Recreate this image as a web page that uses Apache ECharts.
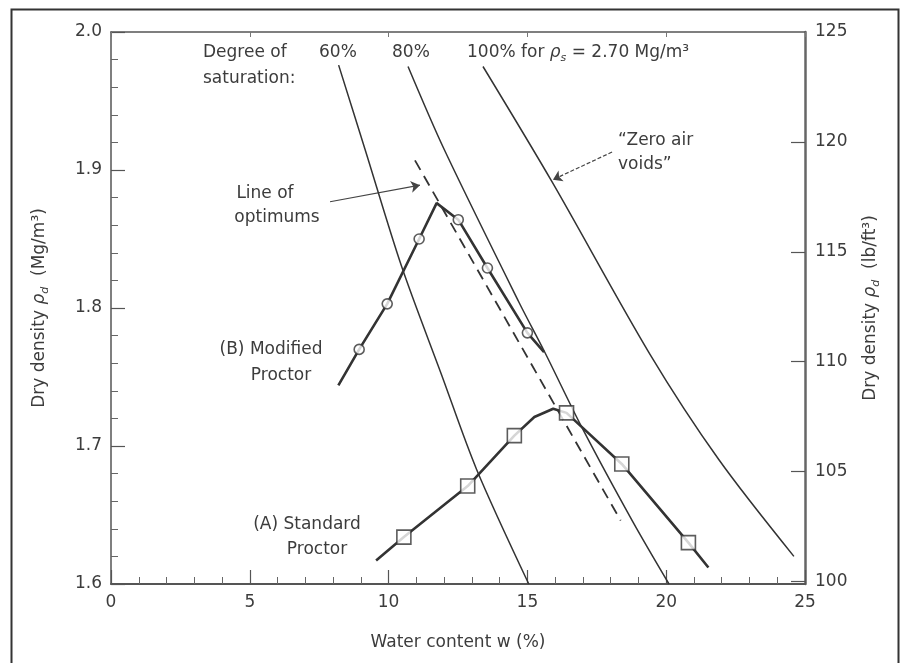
<!DOCTYPE html>
<html><head><meta charset="utf-8">
<script src="https://cdn.jsdelivr.net/npm/echarts@6/dist/echarts.min.js"></script>
<style>html,body{margin:0;padding:0;background:#fff}#c{width:904px;height:663px}</style>
</head><body><div id="c"></div>
<script>
// ---------- data ----------
const xTicks = [0, 5, 10, 15, 20, 25];
const yTicksLeft = [1.6, 1.7, 1.8, 1.9, 2.0];
const yTicksRight = [100, 105, 110, 115, 120, 125];
// degree of saturation curves [w %, rho_d Mg/m3]
const sat60 = [[8.2, 1.976], [9.15, 1.915], [10.47, 1.830], [11.9, 1.752], [13.17, 1.683], [15.05, 1.600]];
const sat80 = [[10.7, 1.975], [12.0, 1.915], [14.7, 1.804], [15.6, 1.769], [17.0, 1.712], [18.8, 1.645], [20.1, 1.600]];
const sat100 = [[13.4, 1.975], [15.9, 1.891], [19.4, 1.767], [21.9, 1.690], [24.6, 1.620]];
// line of optimums (dashed)
const optimumLine = [[10.95, 1.907], [18.36, 1.646]];
// (B) Modified Proctor
const modifiedCurve = [[8.19, 1.744], [8.94, 1.770], [9.95, 1.803], [11.1, 1.850], [11.73, 1.876], [12.51, 1.864], [13.56, 1.829], [15.0, 1.782], [15.6, 1.768]];
const modifiedPoints = [[8.94, 1.770], [9.95, 1.803], [11.1, 1.850], [12.51, 1.864], [13.56, 1.829], [15.0, 1.782]];
// (A) Standard Proctor
const standardCurve = [[9.55, 1.617], [10.55, 1.634], [12.85, 1.671], [14.53, 1.7075], [15.25, 1.721], [15.93, 1.727], [16.41, 1.724], [18.4, 1.687], [20.8, 1.630], [21.52, 1.612]];
const standardPoints = [[10.55, 1.634], [12.85, 1.671], [14.53, 1.7075], [16.41, 1.724], [18.4, 1.687], [20.8, 1.630]];
// annotation arrows [from, to]
const arrowOptimums = [[7.89, 1.877], [11.13, 1.889]];
const arrowZeroAir = [[18.05, 1.913], [15.92, 1.893]];
const MG_TO_LB = 62.428;

// ---------- chart ----------
const FONT = 'DejaVu Sans';
const TXT = '#3c3c3c';
const INK = '#333';
const chart = echarts.init(document.getElementById('c'), null, {renderer: 'canvas'});
const rich = {
  n: {fontFamily: FONT, fontSize: 17, color: TXT, lineHeight: 22, verticalAlign: 'middle'},
  r: {fontFamily: FONT, fontSize: 17, color: TXT, lineHeight: 22, fontStyle: 'italic', verticalAlign: 'middle'},
  s: {fontFamily: FONT, fontSize: 11, color: TXT, lineHeight: 12, fontStyle: 'italic', verticalAlign: 'bottom'}
};
function txt(x, y, text, align) {
  return {type: 'text', x: x, y: y, style: {text: text, fontFamily: FONT, fontSize: 17, fill: TXT,
    textAlign: align || 'left', textVerticalAlign: 'middle'}};
}
const option = {
  animation: false,
  backgroundColor: '#fff',
  grid: {left: 111, right: 99, top: 32, bottom: 79, containLabel: false},
  xAxis: [{
    type: 'value', min: xTicks[0], max: xTicks[xTicks.length - 1], interval: 5, position: 'bottom',
    name: 'Water content w (%)', nameLocation: 'middle', nameGap: 50,
    nameTextStyle: {fontFamily: FONT, fontSize: 17, color: TXT},
    axisLine: {onZero: false, lineStyle: {color: '#555', width: 2}},
    axisTick: {inside: true, length: 14, lineStyle: {color: '#555', width: 1.2}},
    minorTick: {show: true, splitNumber: 5, length: 7, lineStyle: {color: '#666', width: 1}},
    axisLabel: {fontFamily: FONT, fontSize: 17, color: TXT, margin: 10},
    splitLine: {show: false}
  }, {
    type: 'value', min: xTicks[0], max: xTicks[xTicks.length - 1], interval: 5, position: 'top',
    axisLine: {onZero: false, lineStyle: {color: '#555', width: 1.5}},
    axisTick: {inside: true, length: 5, lineStyle: {color: '#777'}},
    axisLabel: {show: false}, splitLine: {show: false}
  }],
  yAxis: [{
    type: 'value', min: yTicksLeft[0], max: yTicksLeft[yTicksLeft.length - 1], interval: 0.1, position: 'left',
    name: '{n|Dry density }{r|ρ}{s|d}{n|  (Mg/m³)}', nameLocation: 'middle', nameGap: 60, nameRotate: 90,
    nameTextStyle: {rich: rich},
    axisLine: {show: true, onZero: false, lineStyle: {color: '#555', width: 1.5}},
    axisTick: {show: true, inside: true, length: 14, lineStyle: {color: '#555', width: 1.2}},
    minorTick: {show: true, splitNumber: 5, length: 7, lineStyle: {color: '#666', width: 1}},
    axisLabel: {fontFamily: FONT, fontSize: 17, color: TXT, margin: 9, formatter: v => v.toFixed(1)},
    splitLine: {show: false}
  }, {
    type: 'value', min: 1.6 * MG_TO_LB, max: 125, position: 'right',
    name: '{n|Dry density }{r|ρ}{s|d}{n|  (lb/ft³)}', nameLocation: 'middle', nameGap: 55, nameRotate: 90,
    nameTextStyle: {rich: rich},
    axisLine: {show: true, onZero: false, lineStyle: {color: '#666', width: 2.5}},
    axisTick: {show: true, inside: true, length: 14, customValues: yTicksRight.slice(0, 5), lineStyle: {color: '#555', width: 1.2}},
    axisLabel: {fontFamily: FONT, fontSize: 17, color: TXT, margin: 10, customValues: yTicksRight},
    splitLine: {show: false}
  }],
  graphic: [
    {type: 'rect', left: 9, top: 7, shape: {width: 887, height: 680}, style: {fill: 'none', stroke: '#333', lineWidth: 2}, silent: true},
    txt(203, 53, 'Degree of'),
    txt(203, 79, 'saturation:'),
    txt(319, 53, '60%'),
    txt(392, 53, '80%'),
    {type: 'text', x: 467, y: 53, style: {rich: rich, text: '{n|100% for }{r|ρ}{s|s}{n| = 2.70 Mg/m³}', fill: TXT, textVerticalAlign: 'middle'}},
    txt(265, 194, 'Line of', 'center'),
    txt(277, 218, 'optimums', 'center'),
    txt(618, 141, '“Zero air'),
    txt(618, 165, 'voids”'),
    txt(271, 350, '(B) Modified', 'center'),
    txt(281, 376, 'Proctor', 'center'),
    txt(307, 525, '(A) Standard', 'center'),
    txt(317, 550, 'Proctor', 'center')
  ],
  series: [
    {type: 'line', name: '60%', data: sat60, smooth: 0.3, showSymbol: false, lineStyle: {color: INK, width: 1.5}},
    {type: 'line', name: '80%', data: sat80, smooth: 0.3, showSymbol: false, lineStyle: {color: INK, width: 1.5}},
    {type: 'line', name: '100%', data: sat100, smooth: 0.3, showSymbol: false, lineStyle: {color: INK, width: 1.5}},
    {type: 'line', name: 'optimums', data: optimumLine, showSymbol: false, lineStyle: {color: INK, width: 1.8, type: [11, 7]}},
    {type: 'line', name: 'modified', data: modifiedCurve, showSymbol: false, lineStyle: {color: INK, width: 2.6}},
    {type: 'line', name: 'standard', data: standardCurve, showSymbol: false, lineStyle: {color: INK, width: 2.6}},
    {type: 'scatter', name: 'modifiedPts', data: modifiedPoints, symbol: 'circle', symbolSize: 10, z: 5,
      itemStyle: {color: '#fff', borderColor: INK, borderWidth: 1.6}},
    {type: 'scatter', name: 'standardPts', data: standardPoints, symbol: 'rect', symbolSize: 14, z: 5,
      itemStyle: {color: '#fff', borderColor: INK, borderWidth: 1.6}},
    {type: 'lines', coordinateSystem: 'cartesian2d', polyline: false,
      symbol: ['none', 'arrow'], symbolSize: 9,
      data: [{coords: arrowOptimums, lineStyle: {type: 'solid'}}, {coords: arrowZeroAir, lineStyle: {type: [4, 2]}}],
      lineStyle: {color: '#444', width: 1.2, opacity: 1}}
  ]
};
chart.setOption(option);
</script></body></html>
